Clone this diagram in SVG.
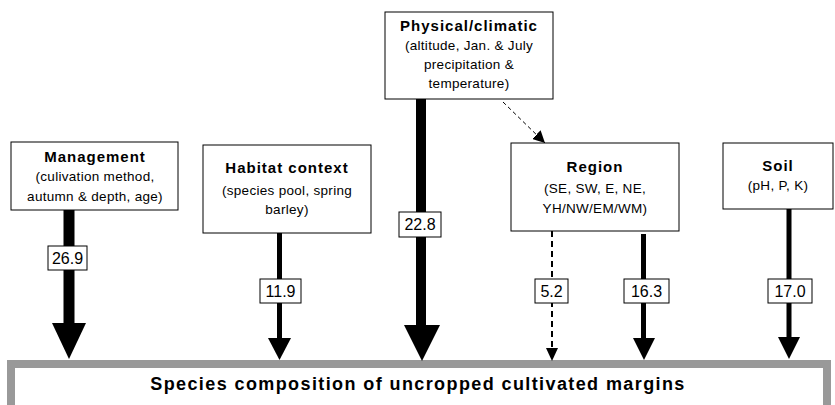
<svg xmlns="http://www.w3.org/2000/svg" width="835" height="405" viewBox="0 0 835 405">
<defs>
<style>
.box{fill:#fff;stroke:#000;stroke-width:1}
.t{font-family:"Liberation Sans",Arial,sans-serif;font-weight:bold;font-size:15px;letter-spacing:1px;text-anchor:middle;fill:#000}
.s{font-family:"Liberation Sans",Arial,sans-serif;font-size:13.5px;letter-spacing:0.3px;text-anchor:middle;fill:#000}
.lbl{fill:#fff;stroke:#000;stroke-width:1}
.n{font-family:"Liberation Sans",Arial,sans-serif;font-size:16px;text-anchor:middle;fill:#000}
.head{fill:#000}
</style>
<marker id="ah" viewBox="0 0 10 10" refX="10" refY="5" markerWidth="12" markerHeight="12" markerUnits="userSpaceOnUse" orient="auto">
<path d="M0,0 L10,5 L0,10 Z" fill="#000"/>
</marker>
</defs>
<rect width="835" height="405" fill="#fff"/>

<g id="target">
<rect x="11" y="364" width="816" height="60" fill="#fff" stroke="#999" stroke-width="8"/>
<text x="418" y="390" class="t" style="font-size:18px;letter-spacing:1.4px">Species composition of uncropped cultivated margins</text>
</g>

<g id="connectors">
<!-- Management -->
<rect x="63.5" y="210" width="11" height="114" fill="#000"/>
<polygon class="head" points="52,323 86,323 69,359"/>
<rect class="lbl" x="48" y="246" width="39" height="24"/>
<text class="n" x="67.5" y="264">26.9</text>
<!-- Habitat -->
<rect x="277" y="233" width="5" height="106" fill="#000"/>
<polygon class="head" points="268,338 291,338 279.5,360"/>
<rect class="lbl" x="260" y="279" width="41" height="24"/>
<text class="n" x="280.5" y="297">11.9</text>
<!-- Physical -->
<rect x="416" y="99" width="10" height="227" fill="#000"/>
<polygon class="head" points="404,325 440,325 422,361"/>
<rect class="lbl" x="399" y="212" width="42" height="25"/>
<text class="n" x="420" y="230">22.8</text>
<!-- Physical to Region -->
<line x1="503" y1="102" x2="545" y2="143" stroke="#000" stroke-width="1" stroke-dasharray="4,3" marker-end="url(#ah)"/>
<!-- Region dashed -->
<line x1="552" y1="231" x2="552" y2="349" stroke="#000" stroke-width="2" stroke-dasharray="6,4"/>
<polygon class="head" points="546,348 558,348 552,361"/>
<rect class="lbl" x="535" y="279" width="33" height="24"/>
<text class="n" x="551.5" y="297">5.2</text>
<!-- Region solid -->
<rect x="641" y="234" width="5" height="105" fill="#000"/>
<polygon class="head" points="633,338 655,338 644,360"/>
<rect class="lbl" x="624" y="279" width="45" height="24"/>
<text class="n" x="646.5" y="297">16.3</text>
<!-- Soil -->
<rect x="786.5" y="209" width="5" height="129" fill="#000"/>
<polygon class="head" points="778,337 800,337 789,359"/>
<rect class="lbl" x="768" y="279" width="44" height="24"/>
<text class="n" x="790" y="297">17.0</text>
</g>

<g id="management">
<rect class="box" x="11" y="142" width="167" height="68"/>
<text class="t" x="95" y="162">Management</text>
<text class="s" x="95" y="181">(culivation method,</text>
<text class="s" x="95" y="201">autumn &amp; depth, age)</text>
</g>

<g id="habitat">
<rect class="box" x="203" y="145" width="168" height="88"/>
<text class="t" x="287" y="173">Habitat context</text>
<text class="s" x="287" y="195">(species pool, spring</text>
<text class="s" x="287" y="214">barley)</text>
</g>

<g id="physical">
<rect class="box" x="385" y="12" width="168" height="87"/>
<text class="t" x="469" y="31">Physical/climatic</text>
<text class="s" x="469" y="50">(altitude, Jan. &amp; July</text>
<text class="s" x="469" y="69">precipitation &amp;</text>
<text class="s" x="469" y="88">temperature)</text>
</g>

<g id="region">
<rect class="box" x="511" y="143" width="168" height="88"/>
<text class="t" x="595" y="172">Region</text>
<text class="s" x="595" y="193">(SE, SW, E, NE,</text>
<text class="s" x="595" y="213">YH/NW/EM/WM)</text>
</g>

<g id="soil">
<rect class="box" x="723" y="143" width="110" height="66"/>
<text class="t" x="778" y="171">Soil</text>
<text class="s" x="778" y="190">(pH, P, K)</text>
</g>
</svg>
